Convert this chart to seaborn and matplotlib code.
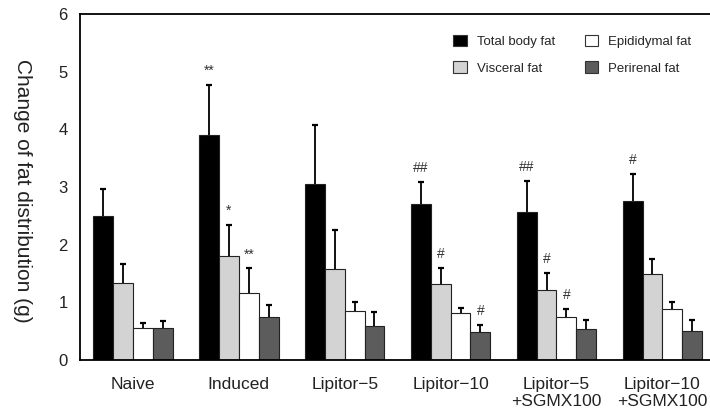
import matplotlib
matplotlib.use("Agg")
import matplotlib.pyplot as plt
import seaborn as sns
import pandas as pd
import numpy as np

groups = ["Naive", "Induced", "Lipitor\u22125", "Lipitor\u221210",
          "Lipitor\u22125\n+SGMX100", "Lipitor\u221210\n+SGMX100"]
series = ["Total body fat", "Visceral fat", "Epididymal fat", "Perirenal fat"]
colors = ["#000000", "#d3d3d3", "#ffffff", "#5c5c5c"]

total_body = [2.50, 3.91, 3.05, 2.70, 2.56, 2.76]
visceral = [1.33, 1.81, 1.58, 1.31, 1.22, 1.50]
epididymal = [0.56, 1.17, 0.85, 0.81, 0.75, 0.89]
perirenal = [0.56, 0.74, 0.59, 0.49, 0.53, 0.51]

total_body_err = [0.46, 0.86, 1.02, 0.38, 0.55, 0.46]
visceral_err = [0.34, 0.53, 0.67, 0.29, 0.29, 0.26]
epididymal_err = [0.09, 0.42, 0.16, 0.10, 0.13, 0.12]
perirenal_err = [0.11, 0.22, 0.24, 0.12, 0.17, 0.18]

# significance marks: (group index, series index, text)
marks = [(1, 0, "**"), (1, 1, "*"), (1, 2, "**"),
         (3, 0, "##"), (3, 1, "#"), (3, 3, "#"),
         (4, 0, "##"), (4, 1, "#"), (4, 2, "#"),
         (5, 0, "#")]

values = [total_body, visceral, epididymal, perirenal]
errors = [total_body_err, visceral_err, epididymal_err, perirenal_err]

rows = []
for s, vals in zip(series, values):
    for g, v in zip(groups, vals):
        rows.append({"group": g, "series": s, "value": v})
df = pd.DataFrame(rows)

sns.set_theme(style="white")
plt.rcParams["font.family"] = ["Liberation Sans", "DejaVu Sans"]

fig = plt.figure(figsize=(7.10, 4.11), dpi=100)
ax = fig.add_axes([80/710, 51/411, 630/710, 346/411])

sns.barplot(data=df, x="group", y="value", hue="series", order=groups,
            hue_order=series, palette=colors, width=0.75, errorbar=None,
            edgecolor="#222222", linewidth=0.8, ax=ax, saturation=1)

bar_conts = list(ax.containers)
for si, cont in enumerate(bar_conts):
    for gi, patch in enumerate(cont.patches):
        xc = patch.get_x() + patch.get_width() / 2
        h = patch.get_height()
        eb = ax.errorbar([xc], [h], yerr=[[0], [errors[si][gi]]], fmt="none",
                         ecolor="black", elinewidth=1.3, capsize=2.5,
                         capthick=1.6, zorder=1)
        caps = eb[1]
        if len(caps) >= 2:
            caps[0].set_visible(False)

for gi, si, txt in marks:
    patch = bar_conts[si].patches[gi]
    xc = patch.get_x() + patch.get_width() / 2
    top = values[si][gi] + errors[si][gi]
    ax.text(xc, top + 0.12, txt, ha="center", va="bottom", fontsize=10,
            color="#333333")

ax.set_xlim(-0.5, 5.45)
ax.set_ylim(0, 6)
ax.set_yticks(range(0, 7))
ax.tick_params(axis="both", length=0, colors="#222222")
ax.tick_params(axis="y", pad=9, labelsize=12)
ax.tick_params(axis="x", pad=12, labelsize=12.5)
ax.set_xlabel("")
ax.set_ylabel("Change of fat distribution (g)", rotation=270, fontsize=15,
              color="#222222", va="center")
ax.yaxis.set_label_coords(-0.092, 0.49)

for side in ["left", "top", "bottom"]:
    ax.spines[side].set_visible(True)
    ax.spines[side].set_color("black")
    ax.spines[side].set_linewidth(1.3)
ax.spines["right"].set_visible(False)

leg = ax.legend(ncol=2, frameon=False, fontsize=9.5, loc="upper left",
                bbox_to_anchor=(0.574, 0.975), handlelength=1.0,
                handleheight=1.0, columnspacing=2.2, labelspacing=1.0,
                handletextpad=0.8)
for h in leg.legend_handles:
    h.set_edgecolor("#333333")
    h.set_linewidth(0.8)

fig.savefig("out.png", dpi=100)
